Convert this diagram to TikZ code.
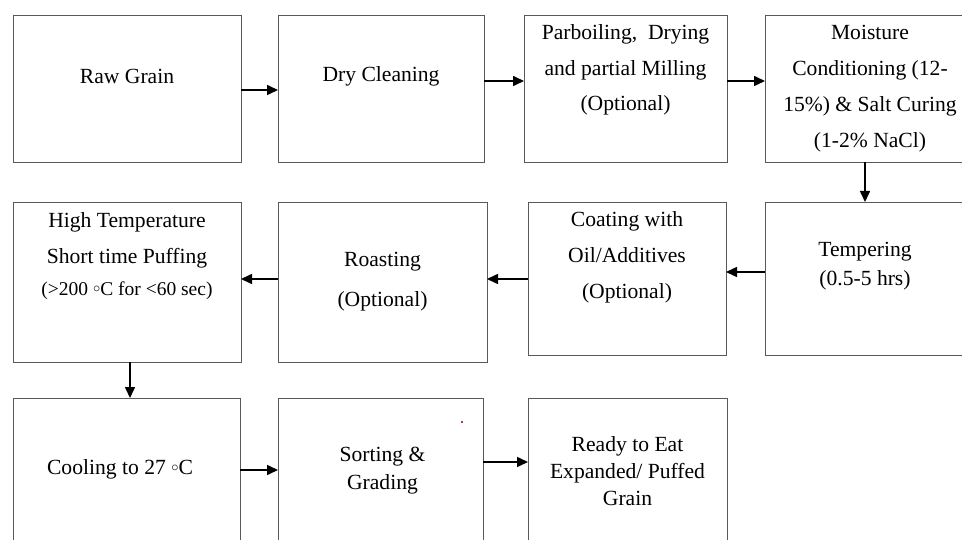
\documentclass[tikz,border=0pt]{standalone}
\usepackage{fontspec}
\setmainfont{Liberation Serif}
\usetikzlibrary{positioning, arrows.meta}
\newcommand{\degring}{\raisebox{3pt}{$\scriptstyle\circ$}}

\begin{document}
\begin{tikzpicture}[x=1pt, y=-1pt,
    stage/.style={rectangle, draw=black!65, line width=0.8pt, inner sep=0pt, outer sep=0pt},
    txt/.style={align=center, inner sep=0pt, font=\fontsize{21.6}{#1}\selectfont},
    txt/.default=36,
    arr/.style={-{Triangle[length=11pt, width=10pt]}, line width=1.6pt},
  ]
    \useasboundingbox (0,0) rectangle (962,540);
    \clip (0,0) rectangle (962,540);

    % --- Row 1 ---
    \node[stage, anchor=north west, minimum width=228, minimum height=147] (raw) at (13,15) {};
    \node[stage, minimum width=206, minimum height=147, right=37pt of raw.north east, anchor=north west] (dry) {};
    \node[stage, minimum width=203, minimum height=147, right=40pt of dry.north east, anchor=north west] (parb) {};
    \node[stage, minimum width=210, minimum height=147, right=38pt of parb.north east, anchor=north west] (moist) {};

    % --- Row 2 ---
    \node[stage, anchor=north west, minimum width=228, minimum height=160] (htst) at (13,202) {};
    \node[stage, minimum width=209, minimum height=160, right=37pt of htst.north east, anchor=north west] (roast) {};
    \node[stage, minimum width=198, minimum height=153, right=41pt of roast.north east, anchor=north west] (coat) {};
    \node[stage, minimum width=210, minimum height=153, right=39pt of coat.north east, anchor=north west] (temp) {};

    % --- Row 3 (runs off the bottom) ---
    \node[stage, anchor=north west, minimum width=227, minimum height=160] (cool) at (13,398) {};
    \node[stage, minimum width=205, minimum height=160, right=38pt of cool.north east, anchor=north west] (sort) {};
    \node[stage, minimum width=199, minimum height=160, right=45pt of sort.north east, anchor=north west] (ready) {};

    % --- Texts ---
    \node[txt] (raw-t)   at ([yshift=12.5pt]raw.center)   {Raw Grain};
    \node[txt] (dry-t)   at ([yshift=12.5pt]dry.center)   {Dry Cleaning};
    \node[txt=35.5] (parb-t) at ([yshift=18.5pt]parb.center)
      {Parboiling,\ \ Drying\\and partial Milling\\(Optional)};
    \node[txt] (moist-t) at (moist.center)
      {Moisture\\Conditioning (12-\\15\%) \& Salt Curing\\(1-2\% NaCl)};
    \node[txt] (htst-t)  at ([yshift=26pt]htst.center)
      {High Temperature\\Short time Puffing\\[-4pt]{\fontsize{19.5}{32}\selectfont (>200 \degring C for <60 sec)}};
    \node[txt=40] (roast-t) at (roast.center) {Roasting\\(Optional)};
    \node[txt] (coat-t)  at ([yshift=21.5pt]coat.center)  {Coating with\\Oil/Additives\\(Optional)};
    \node[txt=29] (temp-t) at ([xshift=-5pt, yshift=12pt]temp.center) {Tempering\\(0.5-5 hrs)};
    \node[txt] (cool-t)  at ([xshift=-6.5pt, yshift=9pt]cool.center) {Cooling to 27 \degring C};
    \node[txt=28] (sort-t) at ([xshift=2pt, yshift=7pt]sort.center) {Sorting \&\\Grading};
    \node[txt=27] (ready-t) at ([yshift=6.5pt]ready.center) {Ready to Eat\\Expanded/ Puffed\\Grain};

    % --- Arrows ---
    \draw[arr] ([yshift=-1.5pt]raw.east) -- ([yshift=-1.5pt]dry.west);
    \draw[arr] ([yshift=7.5pt]dry.east)  -- ([yshift=7.5pt]parb.west);
    \draw[arr] ([yshift=7.5pt]parb.east) -- ([yshift=7.5pt]moist.west);
    \draw[arr] ([xshift=-5pt]moist.south) -- ([xshift=-5pt]temp.north);
    \draw[arr] ([yshift=6.5pt]temp.west) -- ([yshift=6.5pt]coat.east);
    \draw[arr] ([yshift=-0.5pt]coat.west) -- ([yshift=-0.5pt]coat.west -| roast.east);
    \draw[arr] ([yshift=3pt]roast.west) -- ([yshift=3pt]htst.east);
    \draw[arr] ([xshift=3pt]htst.south) -- ([xshift=3pt]htst.south |- cool.north);
    \draw[arr] ([yshift=8pt]cool.east) -- ([yshift=8pt]sort.west);
    \draw[arr] ([yshift=16pt]sort.east) -- ([yshift=16pt]ready.west);

    % stray mark
    \fill[red!55!black] (462,422) circle (1.2pt);
\end{tikzpicture}
\end{document}
